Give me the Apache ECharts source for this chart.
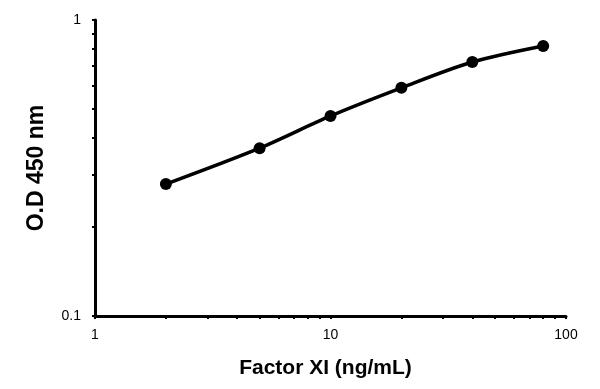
<!DOCTYPE html>
<html><head><meta charset="utf-8">
<script src="https://cdn.jsdelivr.net/npm/echarts@6/dist/echarts.min.js"></script>
<style>html,body{margin:0;padding:0;background:#fff}#c{width:600px;height:389px}</style>
</head><body><div id="c"></div>
<script>
const concentrations = [2, 5, 10, 20, 40, 80];
const odValues = [0.279, 0.369, 0.474, 0.590, 0.721, 0.817];
const xTickLabels = [1, 10, 100];
const yTickLabels = [0.1, 1];
const xTicks = [1,2,3,4,5,6,7,8,9,10,20,30,40,50,60,70,80,90,100];
const yTicks = [0.1,0.2,0.3,0.4,0.5,0.6,0.7,0.8,0.9,1];

const font = '"Liberation Sans", Arial, sans-serif';
const chart = echarts.init(document.getElementById('c'), null, {renderer: 'canvas'});
chart.setOption({
  animation: false,
  backgroundColor: '#fff',
  grid: {left: 95, top: 20, right: 34, bottom: 73, containLabel: false},
  xAxis: {
    type: 'log', logBase: 10, min: 1, max: 100,
    name: 'Factor XI (ng/mL)', nameLocation: 'middle', nameGap: 42,
    nameTextStyle: {fontFamily: font, fontWeight: 'bold', fontSize: 21, color: '#000', padding: [0, 10, 0, 0]},
    axisLine: {lineStyle: {color: '#000', width: 3}},
    axisTick: {show: true, inside: false, length: 3, customValues: xTicks, lineStyle: {color: '#000', width: 2}},
    axisLabel: {customValues: xTickLabels, fontFamily: font, fontSize: 14, color: '#000', margin: 12},
    splitLine: {show: false}
  },
  yAxis: {
    type: 'log', logBase: 10, min: 0.1, max: 1,
    name: 'O.D 450 nm', nameLocation: 'middle', nameGap: 47,
    nameTextStyle: {fontFamily: font, fontWeight: 'bold', fontSize: 23, color: '#000'},
    axisLine: {show: true, lineStyle: {color: '#000', width: 3}},
    axisTick: {show: true, inside: false, length: 3, customValues: yTicks, lineStyle: {color: '#000', width: 2}},
    axisLabel: {customValues: yTickLabels, fontFamily: font, fontSize: 14, color: '#000', margin: 14},
    splitLine: {show: false}
  },
  series: [{
    type: 'line',
    data: concentrations.map((c, i) => [c, odValues[i]]),
    smooth: 0.3,
    symbol: 'circle', symbolSize: 12,
    lineStyle: {color: '#000', width: 3.5},
    itemStyle: {color: '#000'}
  }]
});
</script></body></html>
